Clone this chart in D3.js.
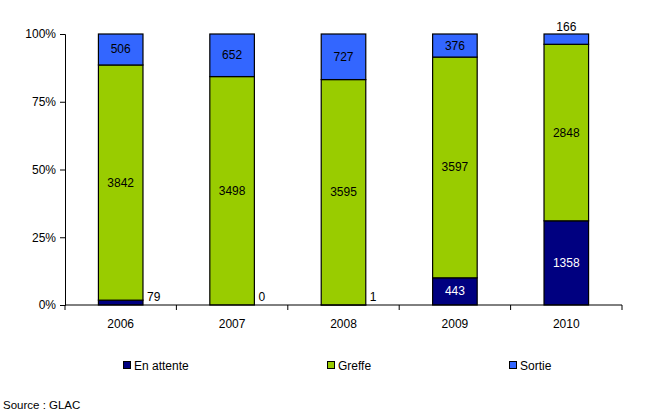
<!DOCTYPE html>
<html>
<head>
<meta charset="utf-8">
<script src="https://d3js.org/d3.v7.min.js"></script>
<style>
  body { margin: 0; background: #fff; }
  text { font-family: "Liberation Sans", Arial, sans-serif; font-size: 12px; fill: #000; }
</style>
</head>
<body>
<script>
// data
const years = ['2006', '2007', '2008', '2009', '2010'];
const seriesNames = ['En attente', 'Greffe', 'Sortie'];
const enAttente = [79, 0, 1, 443, 1358];
const greffe = [3842, 3498, 3595, 3597, 2848];
const sortie = [506, 652, 727, 376, 166];
const colors = ['#000080', '#99CC00', '#3366FF'];
const yTicks = [0, 0.25, 0.5, 0.75, 1];

const width = 653, height = 417;
const margin = {left: 65, right: 31, top: 34, bottom: 112};

const rows = years.map((y, i) => ({year: y, 'En attente': enAttente[i], 'Greffe': greffe[i], 'Sortie': sortie[i]}));

const svg = d3.select('body').append('svg')
    .attr('width', width)
    .attr('height', height);

const x = d3.scaleBand()
    .domain(years)
    .range([margin.left, width - margin.right])
    .paddingInner(0.6)
    .paddingOuter(0.3);
const xEdge = d3.scaleBand().domain(years).range([margin.left, width - margin.right]);

const y = d3.scaleLinear()
    .domain([0, 1])
    .range([height - margin.bottom, margin.top]);

const stacked = d3.stack().keys(seriesNames).offset(d3.stackOffsetExpand)(rows);

// bars
const layers = svg.selectAll('.layer')
    .data(stacked)
    .enter().append('g')
    .attr('class', 'layer')
    .attr('fill', (d, i) => colors[i]);

layers.selectAll('rect')
    .data(d => d)
    .enter().append('rect')
    .attr('x', d => x(d.data.year))
    .attr('width', x.bandwidth())
    .attr('y', d => y(d[1]))
    .attr('height', d => y(d[0]) - y(d[1]))
    .attr('stroke', '#000')
    .attr('stroke-width', 1.2);

// y axis
const yAxis = svg.append('g')
    .attr('transform', `translate(${margin.left},0)`)
    .call(d3.axisLeft(y).tickValues(yTicks).tickFormat(d3.format('.0%')).tickSize(5).tickPadding(4));
yAxis.selectAll('text').style('font-size', '12px').style('font-family', '"Liberation Sans", Arial, sans-serif');
yAxis.select('.domain').attr('stroke', '#000');
yAxis.selectAll('.tick line').attr('stroke', '#000');

// x axis with ticks between categories
const x0 = height - margin.bottom;
const xAxis = svg.append('g');
xAxis.append('line')
    .attr('x1', margin.left).attr('x2', width - margin.right)
    .attr('y1', x0).attr('y2', x0)
    .attr('stroke', '#000');
xAxis.selectAll('.xt')
    .data(years.concat(['end']))
    .enter().append('line')
    .attr('x1', (d, i) => i < years.length ? xEdge(d) : width - margin.right)
    .attr('x2', (d, i) => i < years.length ? xEdge(d) : width - margin.right)
    .attr('y1', x0).attr('y2', x0 + 5)
    .attr('stroke', '#000');
xAxis.selectAll('.xl')
    .data(years)
    .enter().append('text')
    .attr('x', d => x(d) + x.bandwidth() / 2)
    .attr('y', x0 + 23)
    .attr('text-anchor', 'middle')
    .text(d => d);

// value labels
stacked.forEach((layer, si) => {
  layer.forEach(d => {
    const v = d.data[layer.key];
    const h = y(d[0]) - y(d[1]);
    let tx, ty, anchor = 'middle', fill = si === 0 ? '#fff' : '#000';
    if (h >= 14) {
      tx = x(d.data.year) + x.bandwidth() / 2;
      ty = (y(d[0]) + y(d[1])) / 2 + 4;
    } else if (si === 0) {
      tx = x(d.data.year) + x.bandwidth() + 4;
      ty = y(0) - 4;
      anchor = 'start';
      fill = '#000';
    } else {
      tx = x(d.data.year) + x.bandwidth() / 2;
      ty = y(1) - 3;
      fill = '#000';
    }
    svg.append('text')
      .attr('x', tx).attr('y', ty)
      .attr('text-anchor', anchor)
      .style('fill', fill)
      .text(v);
  });
});

// legend
const legendX = [123, 327, 509];
const legend = svg.selectAll('.legend')
    .data(seriesNames)
    .enter().append('g')
    .attr('transform', (d, i) => `translate(${legendX[i]},365)`);
legend.append('rect')
    .attr('x', 0.5).attr('y', -3.5)
    .attr('width', 7).attr('height', 7)
    .attr('fill', (d, i) => colors[i])
    .attr('stroke', '#000');
legend.append('text')
    .attr('x', 11).attr('y', 4.5)
    .text(d => d);

svg.append('text')
    .attr('x', 3).attr('y', 409)
    .style('font-size', '11.5px')
    .text('Source : GLAC');
</script>
</body>
</html>
